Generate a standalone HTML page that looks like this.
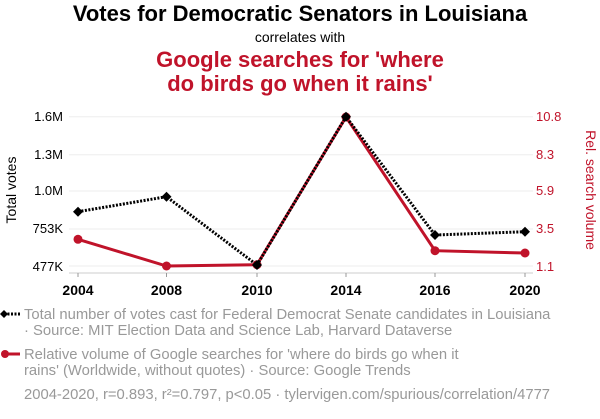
<!DOCTYPE html>
<html><head><style>
body{margin:0;background:#fff;width:600px;height:414px;overflow:hidden;font-family:"Liberation Sans",sans-serif}
</style></head><body>
<svg width="600" height="414" xmlns="http://www.w3.org/2000/svg" font-family="Liberation Sans, sans-serif">
<text x="300" y="21" text-anchor="middle" font-size="22" font-weight="bold" fill="#000">Votes for Democratic Senators in Louisiana</text>
<text x="300" y="42" text-anchor="middle" font-size="14" fill="#000">correlates with</text>
<text x="300" y="67" text-anchor="middle" font-size="22" font-weight="bold" fill="#c0132a">Google searches for 'where</text>
<text x="300" y="91" text-anchor="middle" font-size="22" font-weight="bold" fill="#c0132a">do birds go when it rains'</text>
<g stroke="#eee" stroke-width="1">
<line x1="69" x2="533" y1="116.7" y2="116.7"/><line x1="69" x2="533" y1="154.7" y2="154.7"/>
<line x1="69" x2="533" y1="191" y2="191"/><line x1="69" x2="533" y1="229" y2="229"/>
<line x1="69" x2="533" y1="266" y2="266"/></g>
<line x1="69" x2="533" y1="273" y2="273" stroke="#ccc"/>
<g stroke="#999"><line x1="78" x2="78" y1="273" y2="277"/><line x1="166.5" x2="166.5" y1="273" y2="277"/><line x1="257" x2="257" y1="273" y2="277"/><line x1="346" x2="346" y1="273" y2="277"/><line x1="435" x2="435" y1="273" y2="277"/><line x1="525" x2="525" y1="273" y2="277"/></g>
<g font-size="13" fill="#000" text-anchor="end">
<text x="63" y="121">1.6M</text><text x="63" y="159">1.3M</text><text x="63" y="195">1.0M</text><text x="63" y="233">753K</text><text x="63" y="271">477K</text></g>
<g font-size="13" fill="#c0132a">
<text x="536" y="121">10.8</text><text x="536" y="159">8.3</text><text x="536" y="195">5.9</text><text x="536" y="233">3.5</text><text x="536" y="271">1.1</text></g>
<g font-size="14" font-weight="bold" fill="#000" text-anchor="middle">
<text x="78" y="295">2004</text><text x="166.5" y="295">2008</text><text x="257" y="295">2010</text><text x="346" y="295">2014</text><text x="435" y="295">2016</text><text x="525" y="295">2020</text></g>
<text transform="translate(16,190) rotate(-90)" text-anchor="middle" font-size="14" fill="#000">Total votes</text>
<text transform="translate(586,190) rotate(90)" text-anchor="middle" font-size="14" fill="#c0132a">Rel. search volume</text>
<polyline points="78,239.3 166.5,266 257,264.7 346,117 435,250.7 525,253" fill="none" stroke="#c0132a" stroke-width="3"/>
<g fill="#c0132a"><circle cx="78" cy="239.3" r="4.5"/><circle cx="166.5" cy="266" r="4.5"/><circle cx="257" cy="264.7" r="4.5"/><circle cx="346" cy="117" r="4.5"/><circle cx="435" cy="250.7" r="4.5"/><circle cx="525" cy="253" r="4.5"/></g>
<polyline points="78,211.7 166.5,196.7 257,265 346,116.7 435,235 525,231.7" fill="none" stroke="#000" stroke-width="3" stroke-dasharray="2,1.5"/>
<g fill="#000">
<path d="M78,206.7l5,5l-5,5l-5,-5z"/><path d="M166.5,191.7l5,5l-5,5l-5,-5z"/><path d="M257,260l5,5l-5,5l-5,-5z"/><path d="M346,111.7l5,5l-5,5l-5,-5z"/><path d="M435,230l5,5l-5,5l-5,-5z"/><path d="M525,226.7l5,5l-5,5l-5,-5z"/></g>
<line x1="4" x2="20" y1="314" y2="314" stroke="#000" stroke-width="3" stroke-dasharray="2,1.5"/>
<path d="M4,310l4,4l-4,4l-4,-4z" fill="#000"/>
<line x1="4" x2="20" y1="354" y2="354" stroke="#c0132a" stroke-width="3"/>
<circle cx="5" cy="354" r="4" fill="#c0132a"/>
<g font-size="14.8" fill="#999">
<text x="24" y="319">Total number of votes cast for Federal Democrat Senate candidates in Louisiana</text>
<text x="24" y="335">· Source: MIT Election Data and Science Lab, Harvard Dataverse</text>
<text x="24" y="359">Relative volume of Google searches for 'where do birds go when it</text>
<text x="24" y="375">rains' (Worldwide, without quotes) · Source: Google Trends</text>
<text x="24" y="399">2004-2020, r=0.893, r²=0.797, p&lt;0.05 · tylervigen.com/spurious/correlation/4777</text>
</g>
</svg>
</body></html>
